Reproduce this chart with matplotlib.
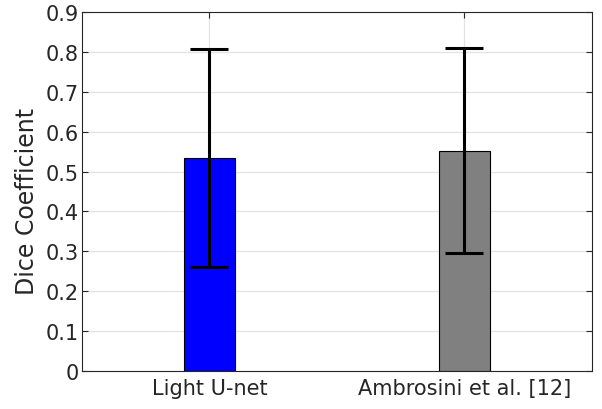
import numpy as np
import matplotlib
matplotlib.use('Agg')
import matplotlib.pyplot as plt

methods = ['Light U-net', 'Ambrosini et al. [12]']
dice_mean = [0.534, 0.552]
dice_std = [0.274, 0.257]
bar_colors = ['#0000ff', '#808080']

fig = plt.figure(figsize=(6.02, 4.10), dpi=100)
ax = fig.add_axes([0.136, 0.093, 0.847, 0.875])

x = np.arange(1, len(methods) + 1)
ax.bar(x, dice_mean, width=0.2, color=bar_colors, edgecolor='black', linewidth=0.8, zorder=2)
ax.errorbar(x, dice_mean, yerr=dice_std, fmt='none', ecolor='black',
            elinewidth=2.2, capsize=13.5, capthick=2.2, zorder=3)

ax.set_xlim(0.5, 2.5)
ax.set_ylim(0, 0.9)
ax.set_yticks(np.arange(0, 0.91, 0.1))
ax.set_yticklabels(['0'] + ['%.1f' % v for v in np.arange(0.1, 0.91, 0.1)])
ax.set_xticks(x)
ax.set_xticklabels(methods)
ax.set_ylabel('Dice Coefficient', fontsize=17, color='#262626')
ax.yaxis.set_label_coords(-0.085, 0.476)

ax.grid(True, color='#e3e3e3', linewidth=0.9, zorder=0)
ax.set_axisbelow(True)
ax.tick_params(direction='in', top=True, right=True, labelsize=15, colors='#262626',
               length=4, width=0.8, pad=2)
ax.tick_params(axis='x', pad=5)
for s in ax.spines.values():
    s.set_color('#262626')
    s.set_linewidth(0.8)

fig.savefig('out.png', dpi=100)
